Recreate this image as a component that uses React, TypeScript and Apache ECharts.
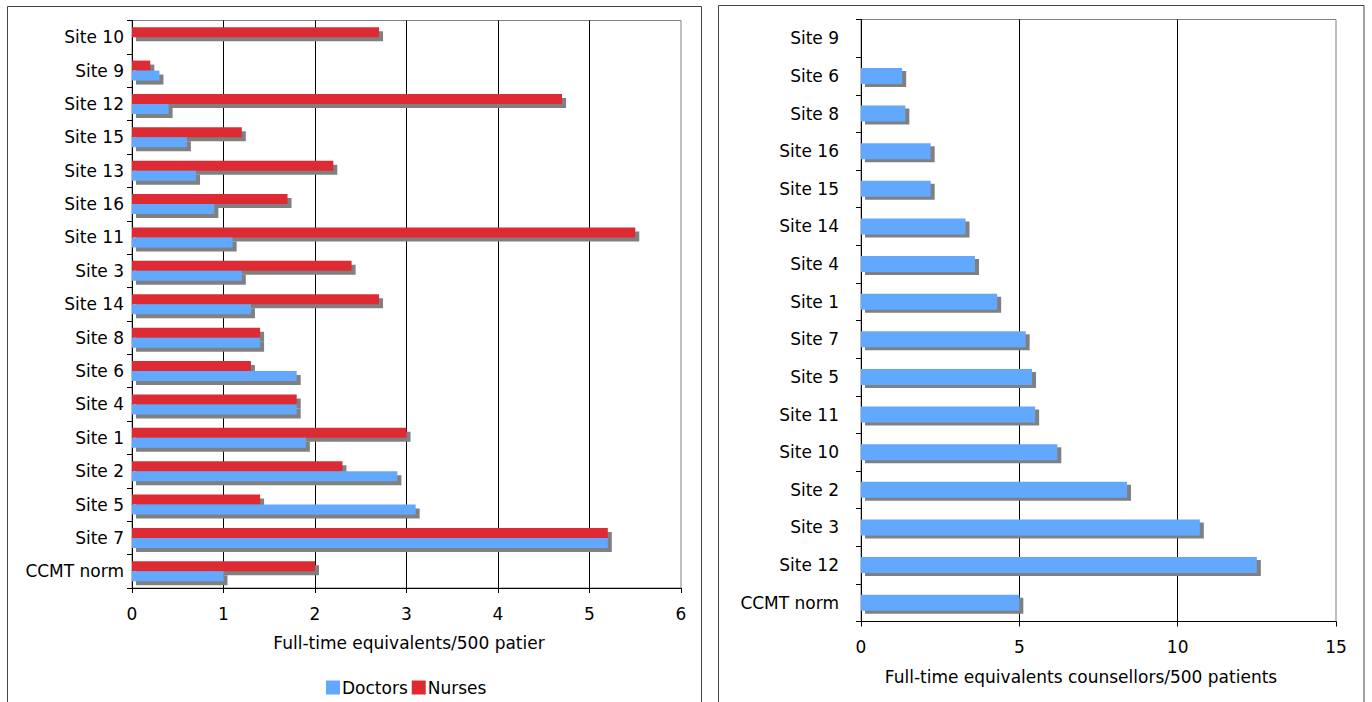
import React, { useEffect, useRef } from "react";
import * as echarts from "echarts";

// Left panel: doctors and nurses per site (top to bottom)
const staffSites = [
  "Site 10", "Site 9", "Site 12", "Site 15", "Site 13", "Site 16", "Site 11", "Site 3",
  "Site 14", "Site 8", "Site 6", "Site 4", "Site 1", "Site 2", "Site 5", "Site 7", "CCMT norm",
];
const doctors = [null, 0.3, 0.4, 0.6, 0.7, 0.9, 1.1, 1.2, 1.3, 1.4, 1.8, 1.8, 1.9, 2.9, 3.1, 5.2, 1.0];
const nurses = [2.7, 0.2, 4.7, 1.2, 2.2, 1.7, 5.5, 2.4, 2.7, 1.4, 1.3, 1.8, 3.0, 2.3, 1.4, 5.2, 2.0];
const staffTicks = [0, 1, 2, 3, 4, 5, 6];

// Right panel: counsellors per site (top to bottom)
const counsellorSites = [
  "Site 9", "Site 6", "Site 8", "Site 16", "Site 15", "Site 14", "Site 4", "Site 1",
  "Site 7", "Site 5", "Site 11", "Site 10", "Site 2", "Site 3", "Site 12", "CCMT norm",
];
const counsellors = [null, 1.3, 1.4, 2.2, 2.2, 3.3, 3.6, 4.3, 5.2, 5.4, 5.5, 6.2, 8.4, 10.7, 12.5, 5.0];
const counsellorTicks = [0, 5, 10, 15];

const BLUE = "#62A8FF";
const RED = "#DE2B33";
const SHADOW = "#808080";
const FONT = "DejaVu Sans";
const FS = 17;

// Draws one horizontal bar inside the category band.
// yOff / h place the bar relative to the band centre; dx / dy shift it (for the drop shadow).
function barRenderer(yOff: number, h: number, dx: number, dy: number, fill: string) {
  return (_params: any, api: any) => {
    const v = api.value(0);
    if (v == null || isNaN(v) || v === 0) return null;
    const start = api.coord([0, api.value(1)]);
    const end = api.coord([v, api.value(1)]);
    return {
      type: "rect",
      shape: { x: start[0] + dx, y: start[1] + yOff + dy, width: end[0] - start[0], height: h },
      style: { fill },
    };
  };
}

function toData(values: (number | null)[]) {
  return values.map((v, i) => [v == null ? NaN : v, i]);
}

export default function App() {
  const ref = useRef<HTMLDivElement>(null);

  useEffect(() => {
    if (!ref.current) return;
    const chart = echarts.init(ref.current, undefined, { renderer: "svg" });

    const axisLabel = { color: "#000", fontFamily: FONT, fontSize: FS };

    const option: any = {
      animation: false,
      backgroundColor: "#fff",
      textStyle: { fontFamily: FONT },
      grid: [
        { left: 132, top: 20.5, width: 549, height: 567.5, show: true, borderColor: SHADOW, borderWidth: 1 },
        { left: 861, top: 19.5, width: 475, height: 602, show: true, borderColor: SHADOW, borderWidth: 1 },
      ],
      xAxis: [
        {
          gridIndex: 0, type: "value", min: staffTicks[0], max: staffTicks[staffTicks.length - 1], interval: 1,
          axisLine: { show: true, lineStyle: { color: "#000", width: 1 } },
          axisTick: { show: true, length: 5, lineStyle: { color: "#000" } },
          axisLabel: { ...axisLabel, margin: 17 },
          splitLine: { show: true, showMinLine: false, showMaxLine: false, lineStyle: { color: "#000", width: 1 } },
        },
        {
          gridIndex: 1, type: "value", min: counsellorTicks[0], max: counsellorTicks[counsellorTicks.length - 1], interval: 5,
          axisLine: { show: true, lineStyle: { color: "#000", width: 1 } },
          axisTick: { show: true, length: 5, lineStyle: { color: "#000" } },
          axisLabel: { ...axisLabel, margin: 17 },
          splitLine: { show: true, showMinLine: false, showMaxLine: false, lineStyle: { color: "#000", width: 1 } },
        },
      ],
      yAxis: [
        {
          gridIndex: 0, type: "category", inverse: true, data: staffSites,
          axisLine: { show: true, lineStyle: { color: "#000", width: 1 } },
          axisTick: { show: true, length: 5, alignWithLabel: false, lineStyle: { color: "#000" } },
          axisLabel: { ...axisLabel, margin: 8 },
          splitLine: { show: false },
        },
        {
          gridIndex: 1, type: "category", inverse: true, data: counsellorSites,
          axisLine: { show: true, lineStyle: { color: "#000", width: 1 } },
          axisTick: { show: true, length: 5, alignWithLabel: false, lineStyle: { color: "#000" } },
          axisLabel: { ...axisLabel, margin: 22 },
          splitLine: { show: false },
        },
      ],
      legend: {
        data: ["Doctors", "Nurses"],
        left: 326,
        top: 679,
        icon: "rect",
        itemWidth: 14,
        itemHeight: 14,
        itemGap: 4,
        padding: 0,
        textStyle: { color: "#000", fontFamily: FONT, fontSize: FS, padding: [0, 0, 0, -3] },
      },
      series: [
        // drop shadows first so every coloured bar sits above them
        {
          name: "Nurses shadow", type: "custom", xAxisIndex: 0, yAxisIndex: 0, z: 1, silent: true,
          renderItem: barRenderer(-10, 10, 4, 4, SHADOW), encode: { x: 0, y: 1 }, data: toData(nurses),
        },
        {
          name: "Doctors shadow", type: "custom", xAxisIndex: 0, yAxisIndex: 0, z: 1, silent: true,
          renderItem: barRenderer(0, 10, 4, 4, SHADOW), encode: { x: 0, y: 1 }, data: toData(doctors),
        },
        {
          name: "Counsellors shadow", type: "custom", xAxisIndex: 1, yAxisIndex: 1, z: 1, silent: true,
          renderItem: barRenderer(-8, 16, 4, 3, SHADOW), encode: { x: 0, y: 1 }, data: toData(counsellors),
        },
        {
          name: "Nurses", type: "custom", xAxisIndex: 0, yAxisIndex: 0, z: 2, itemStyle: { color: RED },
          renderItem: barRenderer(-10, 10, 0, 0, RED), encode: { x: 0, y: 1 }, data: toData(nurses),
        },
        {
          name: "Doctors", type: "custom", xAxisIndex: 0, yAxisIndex: 0, z: 3, itemStyle: { color: BLUE },
          renderItem: barRenderer(0, 10, 0, 0, BLUE), encode: { x: 0, y: 1 }, data: toData(doctors),
        },
        {
          name: "Counsellors", type: "custom", xAxisIndex: 1, yAxisIndex: 1, z: 2, itemStyle: { color: BLUE },
          renderItem: barRenderer(-8, 16, 0, 0, BLUE), encode: { x: 0, y: 1 }, data: toData(counsellors),
        },
      ],
      graphic: [
        {
          type: "rect", z: 0, silent: true,
          shape: { x: 7.5, y: 6.5, width: 694, height: 720 },
          style: { fill: "none", stroke: "#444", lineWidth: 1 },
        },
        {
          type: "rect", z: 0, silent: true,
          shape: { x: 718.5, y: 5.5, width: 645.5, height: 720 },
          style: { fill: "none", stroke: "#444", lineWidth: 1 },
        },
        {
          type: "text", x: 409, y: 643,
          style: {
            text: "Full-time equivalents/500 patier", fill: "#000", font: `${FS}px ${FONT}`,
            textAlign: "center", textVerticalAlign: "middle",
          },
        },
        {
          type: "text", x: 1081, y: 677,
          style: {
            text: "Full-time equivalents counsellors/500 patients", fill: "#000", font: `${FS}px ${FONT}`,
            textAlign: "center", textVerticalAlign: "middle",
          },
        },
      ],
    };

    chart.setOption(option);
    return () => chart.dispose();
  }, []);

  return (
    <div
      ref={ref}
      style={{ position: "absolute", left: 0, top: 0, width: 1372, height: 702 }}
    />
  );
}
